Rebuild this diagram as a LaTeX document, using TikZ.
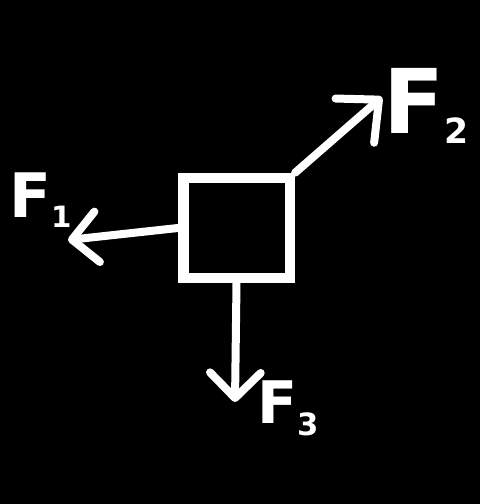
\documentclass[tikz,border=0pt]{standalone}
\usepackage{fontspec}
\setmainfont{DejaVu Sans}
\usetikzlibrary{arrows.meta}

\begin{document}
\begin{tikzpicture}[
  x=0.75pt, y=-0.75pt,
  block/.style={rectangle, draw=white, line width=8pt, minimum width=80pt, minimum height=75pt, inner sep=0pt},
  force/.style={-{Straight Barb[round, length=19pt, width=38pt]}, draw=white, line width=6pt, line cap=round},
  flabel/.style={text=white, inner sep=0pt, anchor=base west, font=\bfseries}
]

% Background and frame
\fill[black] (0,0) rectangle (480,504);
\useasboundingbox (0,0) rectangle (480,504);

% Body
\node[block] (body) at (236.5,228) {};

% Free ends of the forces
\coordinate (tip1) at (68,240);
\coordinate (tip2) at (382,97);
\coordinate (tip3) at (235,402);

\draw[force] (body.west) -- (tip1);
\draw[force, -{Straight Barb[round, length=24pt, width=44pt]}] (body.north east) -- (tip2);
\draw[force] (body.south) -- (tip3);

% Labels
\node[flabel, font=\bfseries\fontsize{46}{46}\selectfont] (F1) at (9,217)
  {F\raisebox{-8pt}{\fontsize{22}{22}\selectfont 1}};
\node[flabel, font=\bfseries\fontsize{67}{67}\selectfont] (F2) at (383,133)
  {F\raisebox{-8pt}{\fontsize{26}{26}\selectfont 2}};
\node[flabel, font=\bfseries\fontsize{44}{44}\selectfont] (F3) at (257,423)
  {F\raisebox{-9pt}{\fontsize{23}{23}\selectfont 3}};

\end{tikzpicture}
\end{document}
